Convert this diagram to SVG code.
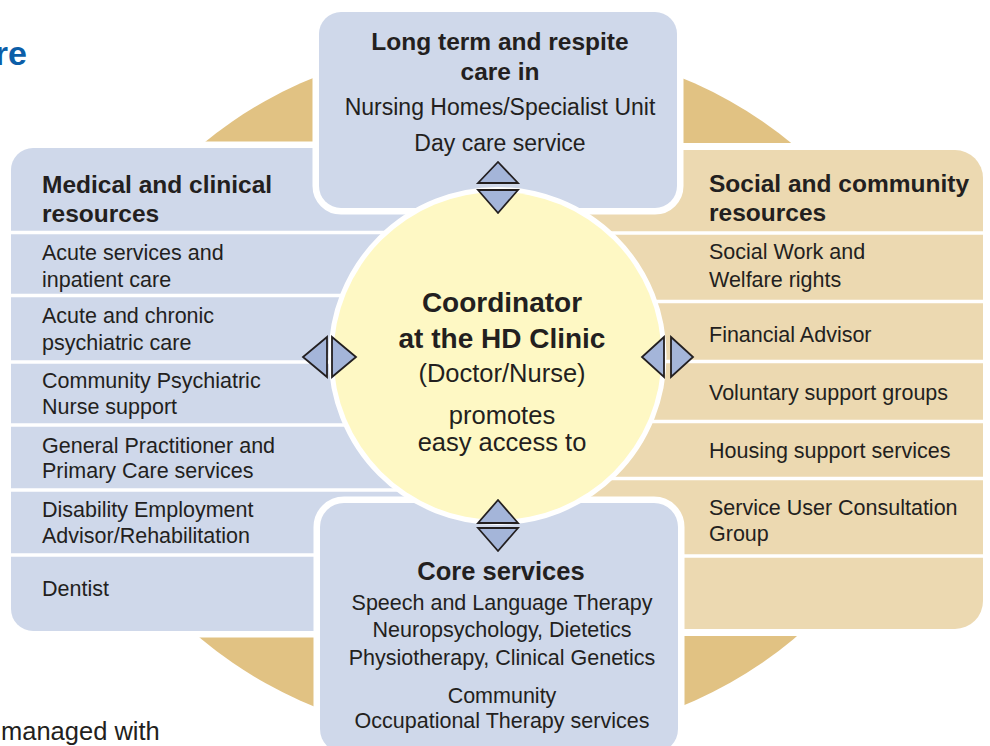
<svg xmlns="http://www.w3.org/2000/svg" width="990" height="746" viewBox="0 0 990 746">
<style>
text{font-family:"Liberation Sans",Arial,sans-serif;fill:#231f20}
.h{font-weight:bold;font-size:24.5px}
.r{font-size:21.5px}
.c{text-anchor:middle}
.blue{fill:#cfd8ea;stroke:#fff;stroke-width:13;paint-order:stroke}
.tan{fill:#ecd9b1;stroke:#fff;stroke-width:14;paint-order:stroke}
.sep{stroke:#fff;stroke-width:3.5}
.tri{fill:#a4b5d9;stroke:#231f20;stroke-width:1.8;stroke-linejoin:miter}
</style>
<rect width="990" height="746" fill="#fff"/>
<ellipse cx="497.5" cy="392" rx="418" ry="350" fill="#e1c283"/>
<text x="27" y="65" style="font-weight:bold;font-size:34px;fill:#0b5ea8;text-anchor:end">re</text>
<text x="1" y="740" style="font-size:25.5px">managed with</text>

<g id="node-medical">
<path class="blue" d="M33 148H497V631H33A22 22 0 0 1 11 609V170A22 22 0 0 1 33 148Z" stroke-width="14"/>
<g class="sep">
<line x1="11" y1="232.5" x2="497" y2="232.5"/>
<line x1="11" y1="295.5" x2="497" y2="295.5"/>
<line x1="11" y1="362" x2="497" y2="362"/>
<line x1="11" y1="425" x2="497" y2="425"/>
<line x1="11" y1="490" x2="497" y2="490"/>
<line x1="11" y1="555" x2="497" y2="555"/>
</g>
<text class="h" x="42" y="193">Medical and clinical</text>
<text class="h" x="42" y="222">resources</text>
<text class="r" x="42" y="260">Acute services and</text>
<text class="r" x="42" y="287">inpatient care</text>
<text class="r" x="42" y="323">Acute and chronic</text>
<text class="r" x="42" y="350">psychiatric care</text>
<text class="r" x="42" y="388">Community Psychiatric</text>
<text class="r" x="42" y="414">Nurse support</text>
<text class="r" x="42" y="453">General Practitioner and</text>
<text class="r" x="42" y="478">Primary Care services</text>
<text class="r" x="42" y="517">Disability Employment</text>
<text class="r" x="42" y="543">Advisor/Rehabilitation</text>
<text class="r" x="42" y="596">Dentist</text>
</g>

<g id="node-social">
<path class="tan" d="M497 150H955A28 28 0 0 1 983 178V601A28 28 0 0 1 955 629H497Z"/>
<g class="sep">
<line x1="497" y1="233" x2="983" y2="233"/>
<line x1="497" y1="301.5" x2="983" y2="301.5"/>
<line x1="497" y1="361.5" x2="983" y2="361.5"/>
<line x1="497" y1="421.5" x2="983" y2="421.5"/>
<line x1="497" y1="478.5" x2="983" y2="478.5"/>
<line x1="497" y1="556" x2="983" y2="556"/>
</g>
<text class="h" x="709" y="192">Social and community</text>
<text class="h" x="709" y="221">resources</text>
<text class="r" x="709" y="259">Social Work and</text>
<text class="r" x="709" y="287">Welfare rights</text>
<text class="r" x="709" y="342">Financial Advisor</text>
<text class="r" x="709" y="400">Voluntary support groups</text>
<text class="r" x="709" y="458">Housing support services</text>
<text class="r" x="709" y="515">Service User Consultation</text>
<text class="r" x="709" y="541">Group</text>
</g>

<g id="node-longterm">
<rect class="blue" x="319" y="12" width="358" height="196" rx="22" stroke-width="12"/>
<text class="h c" x="500" y="50">Long term and respite</text>
<text class="h c" x="500" y="80">care in</text>
<text class="c" x="500" y="115" style="font-size:23px">Nursing Homes/Specialist Unit</text>
<text class="c" x="500" y="151" style="font-size:23px">Day care service</text>
</g>

<g id="node-core">
<rect class="blue" x="320" y="503" width="358" height="250" rx="24" stroke-width="12"/>
<text class="c" x="501" y="580" style="font-weight:bold;font-size:25.5px">Core services</text>
<text class="c r" x="502" y="610">Speech and Language Therapy</text>
<text class="c r" x="502" y="637">Neuropsychology, Dietetics</text>
<text class="c r" x="502" y="665">Physiotherapy, Clinical Genetics</text>
<text class="c r" x="502" y="703">Community</text>
<text class="c r" x="502" y="728">Occupational Therapy services</text>
</g>

<g id="node-coordinator">
<circle cx="497.5" cy="356" r="164" fill="#fef8c4" stroke="#fff" stroke-width="10" paint-order="stroke"/>
<text class="c" x="502" y="312" style="font-weight:bold;font-size:28px">Coordinator</text>
<text class="c" x="502" y="348" style="font-weight:bold;font-size:28px">at the HD Clinic</text>
<text class="c" x="502" y="382" style="font-size:25.5px">(Doctor/Nurse)</text>
<text class="c" x="502" y="424" style="font-size:25.5px">promotes</text>
<text class="c" x="502" y="451" style="font-size:25.5px">easy access to</text>
</g>

<g id="connectors">
<path class="tri" d="M478 183L498 162L518 183Z"/>
<path class="tri" d="M478 190L518 190L498 213Z"/>
<path class="tri" d="M478 523L498 500L518 523Z"/>
<path class="tri" d="M478 528L518 528L498 551Z"/>
<path class="tri" d="M327 337L303 357L327 377Z"/>
<path class="tri" d="M332 337L356 357L332 377Z"/>
<path class="tri" d="M664 337L642 357L664 377Z"/>
<path class="tri" d="M671 337L693 357L671 377Z"/>
</g>
</svg>
